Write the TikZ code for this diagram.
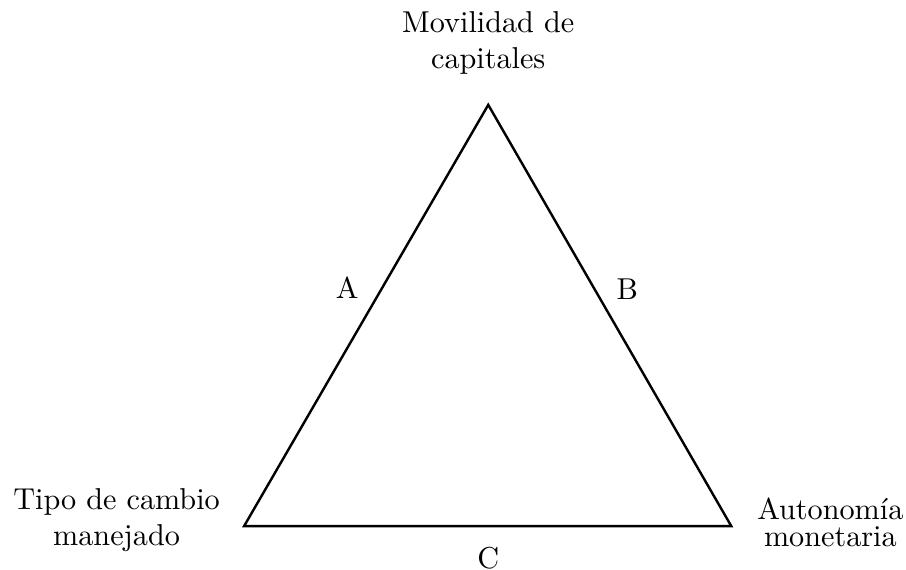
\documentclass[tikz,border=0pt]{standalone}
\usepackage{amsmath}
\usepackage{tikz}
\usetikzlibrary{positioning}

\begin{document}
\begin{tikzpicture}[
                corner/.style={align=center},
                side/.style={inner sep=0pt},
            ]
            \useasboundingbox (-2.84,-0.50) rectangle (7.70,6.12);

            % Define vertices
            \coordinate (TC) at (0,0);
            \coordinate (AM) at (5.667,0);
            \coordinate (MC) at (2.84,4.90);

            % Draw triangle
            \draw[thick] (TC) -- (AM) -- (MC) -- cycle;

            % Draw vertex labels
            \node[corner,anchor=north] (Lmc) at (2.84,6.11) {Movilidad de\\ capitales};
            \node[corner,anchor=north] (Ltc) at (-1.484,0.559) {Tipo de cambio\\ manejado};
            \node[corner,anchor=north] (Lam) at (6.82,0.456) {Autonom\'{\i}a\\[-2.8pt] monetaria};

            % Draw side labels
            \node[side] (A) at (1.20,2.77) {A};
            \node[side] (B) at (4.457,2.76) {B};
            \node[side] (C) at (2.84,-0.37) {C};

            \end{tikzpicture}
\end{document}
